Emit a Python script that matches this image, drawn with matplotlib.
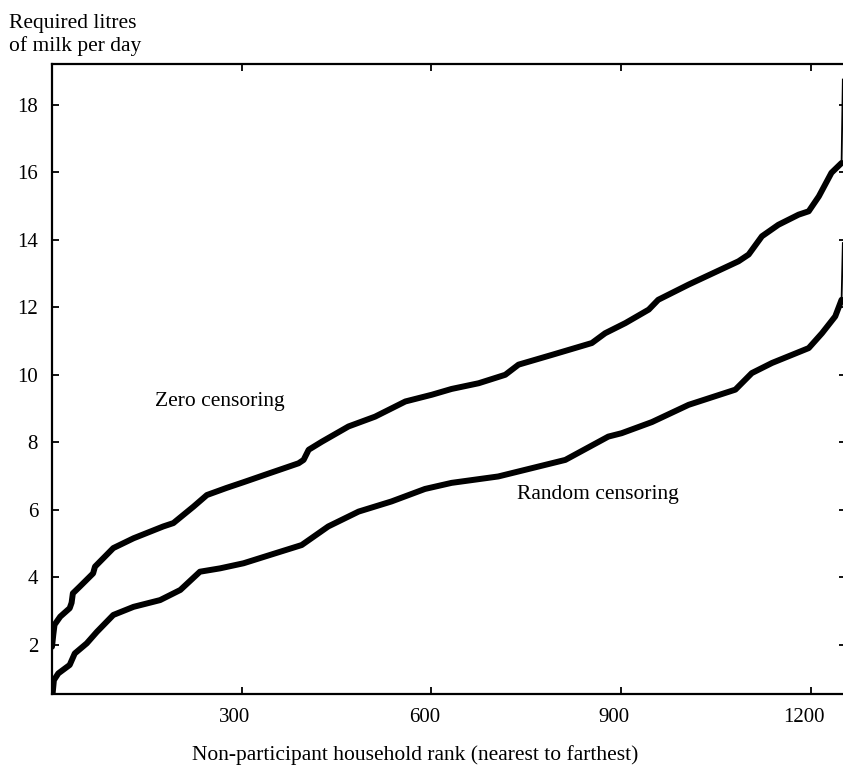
import matplotlib
matplotlib.use("Agg")
import matplotlib.pyplot as plt
import matplotlib.transforms as mtransforms
import numpy as np

# values (rank, litres/day)
zero_rank = [0, 2, 4, 13, 28, 31, 33, 44, 65, 68, 97, 129, 176, 192, 224, 245, 276, 303,
             337, 390, 398, 406, 427, 469, 511, 559, 601, 632, 675, 717, 738, 791, 854,
             875, 907, 944, 959, 1007, 1086, 1102, 1123, 1149, 1181, 1197, 1213, 1233, 1249]
zero_litres = [1.95, 2.3, 2.6, 2.84, 3.09, 3.25, 3.53, 3.73, 4.12, 4.32, 4.87, 5.16, 5.51, 5.61,
               6.10, 6.44, 6.65, 6.82, 7.04, 7.38, 7.48, 7.78, 8.02, 8.47, 8.76, 9.21, 9.41,
               9.58, 9.75, 10.0, 10.30, 10.59, 10.94, 11.23, 11.53, 11.93, 12.22, 12.67,
               13.36, 13.56, 14.10, 14.44, 14.74, 14.84, 15.28, 15.98, 16.27]
zero_tail_rank = [1249, 1251]
zero_tail_litres = [16.27, 18.74]

random_rank = [1, 3, 10, 28, 36, 55, 71, 97, 129, 171, 203, 234, 266, 303, 337, 395, 437,
               485, 537, 590, 632, 706, 812, 880, 901, 949, 1007, 1081, 1107, 1139, 1197,
               1218, 1239, 1249]
random_litres = [0.57, 0.96, 1.16, 1.41, 1.75, 2.05, 2.39, 2.89, 3.13, 3.33, 3.63, 4.17, 4.27,
                 4.42, 4.62, 4.96, 5.51, 5.95, 6.25, 6.62, 6.80, 6.99, 7.48, 8.17, 8.27, 8.6,
                 9.11, 9.56, 10.05, 10.35, 10.79, 11.23, 11.73, 12.22]
random_tail_rank = [1249, 1251]
random_tail_litres = [12.22, 13.90]

x_ticks = [300, 600, 900, 1200]
y_ticks = [2, 4, 6, 8, 10, 12, 14, 16, 18]

W, H = 843, 767


def plot_requirements(ax):
    thick = dict(color="black", lw=4.3, solid_capstyle="round", solid_joinstyle="round")
    ax.plot(zero_rank, zero_litres, **thick)
    ax.plot(random_rank, random_litres, **thick)
    ax.plot(zero_tail_rank, zero_tail_litres, color="black", lw=1.3)
    ax.plot(random_tail_rank, random_tail_litres, color="black", lw=1.3)

    ax.text(163, 9.2, "Zero censoring", fontsize=15.5, va="center")
    ax.text(736, 6.45, "Random censoring", fontsize=15.5, va="center")

    ax.set_xlim(0, 1256)
    ax.set_ylim(0.55, 19.2)
    ax.set_xticks(x_ticks)
    ax.set_yticks(y_ticks)
    ax.tick_params(direction="in", length=5, width=1.3, labelsize=15,
                   top=True, right=True, pad=10)
    for side in ax.spines.values():
        side.set_linewidth(1.6)

    # labels in the original sit a little left of their ticks
    shift = mtransforms.ScaledTranslation(-7 / 100, 0, ax.figure.dpi_scale_trans)
    for lab in ax.get_xticklabels():
        lab.set_transform(lab.get_transform() + shift)


if __name__ == "__main__":
    plt.rcParams["font.family"] = ["Liberation Serif", "DejaVu Serif"]
    fig = plt.figure(figsize=(W / 100, H / 100), dpi=100)
    ax = fig.add_axes([52 / W, 73 / H, 794 / W, 630 / H])
    plot_requirements(ax)

    fig.text(9 / W, 1 - 35 / H, "Required litres\nof milk per day", fontsize=15.5,
             ha="left", va="center", linespacing=1.25)
    fig.text(415 / W, 1 - 755 / H, "Non-participant household rank (nearest to farthest)",
             fontsize=15.5, ha="center", va="center")

    fig.savefig("out.png", dpi=100)
